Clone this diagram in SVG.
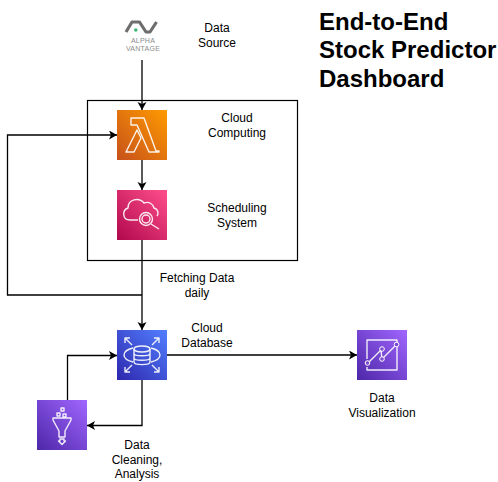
<svg xmlns="http://www.w3.org/2000/svg" width="498" height="482" viewBox="0 0 498 482">
<style>
text{font-family:"Liberation Sans",Arial,sans-serif;font-size:12px;fill:#000;text-anchor:middle}
.title{font-size:24px;font-weight:bold;text-anchor:start}
.logo{font-size:7px;letter-spacing:.25px;fill:#8c8c8c}
.c{fill:none;stroke:#000;stroke-width:1.3;marker-end:url(#a)}
.g{fill:none;stroke:#fff;stroke-width:1.400;stroke-linejoin:round;opacity:.9}
</style>
<defs>
<marker id="a" markerUnits="userSpaceOnUse" markerWidth="10" markerHeight="10" refX="8" refY="4.5" orient="auto"><path d="M0 0L8 4.5L0 9L2 4.5Z" fill="#000"/></marker>
<linearGradient id="o" x1="0" y1="1" x2="1" y2="0"><stop offset="0" stop-color="#c7511b"/><stop offset="1" stop-color="#ff9a00"/></linearGradient>
<linearGradient id="p" x1="0" y1="1" x2="1" y2="0"><stop offset="0" stop-color="#b0084d"/><stop offset="1" stop-color="#ff4f8b"/></linearGradient>
<linearGradient id="b" x1="0" y1="1" x2="1" y2="0"><stop offset="0" stop-color="#2e27ad"/><stop offset="1" stop-color="#527fff"/></linearGradient>
<linearGradient id="v" x1="0" y1="1" x2="1" y2="0"><stop offset="0" stop-color="#4d27a8"/><stop offset="1" stop-color="#a166ff"/></linearGradient>
</defs>
<rect id="cloud-box" x="87.5" y="100.5" width="210" height="160" fill="none" stroke="#000" stroke-width="1.2"/>
<g id="connectors">
<path class="c" d="M142 60V110"/>
<path class="c" d="M142 160V190"/>
<path class="c" d="M142 240V330"/>
<path class="c" d="M142 295H7.5V135H117"/>
<path class="c" d="M167 355H357"/>
<path class="c" d="M142 380V425.500H87"/>
<path class="c" d="M67.500 400V355.500H117"/>
</g>
<g id="alpha-vantage">
<path d="M126 32L132 22H139.500L146 32H150L156.500 22" fill="none" stroke="#6e6e6e" stroke-width="3.200" stroke-linejoin="round"/>
<circle cx="135.800" cy="30" r="1.800" fill="#3cb878"/>
<text class="logo" x="143" y="43">ALPHA</text>
<text class="logo" x="143" y="51.200">VANTAGE</text>
</g>
<g id="lambda">
<rect x="117" y="110" width="50" height="50" fill="url(#o)"/>
<path class="g" d="M131 118H144L156 151H159V152H149L137 125H131Z"/>
<path class="g" d="M137 130L126 152H134L141 138Z"/>
</g>
<g id="scheduling">
<rect x="117" y="190" width="50" height="50" fill="url(#p)"/>
<path class="g" d="M138 220H130C122 220 122 210 128 208C128 199 139 197 144 203C149 201 153 204 154 208C158 209 159 213 157 216"/>
<circle class="g" cx="146" cy="219" r="6.500"/>
<circle class="g" cx="146" cy="219" r="4"/>
<path class="g" d="M151 224L159 229"/>
</g>
<g id="database">
<rect x="117" y="330" width="50" height="50" fill="url(#b)"/>
<ellipse class="g" cx="142" cy="349" rx="8" ry="3"/>
<path class="g" d="M134 349V362C134 365.500 150 365.500 150 362V349M134 353.500C134 356.500 150 356.500 150 353.500M134 358C134 361 150 361 150 358"/>
<path class="g" d="M133 348C121 351 121 359 133 362M151 348C163 351 163 359 151 362"/>
<path class="g" d="M125 338L132 345M125 343V338H130M159 338L152 345M154 338H159V343M125 372L132 365M125 367V372H130M159 372L152 365M154 372H159V367"/>
</g>
<g id="funnel">
<rect x="37" y="400" width="50" height="50" fill="url(#v)"/>
<path class="g" d="M53 418H71V420L65 431V437H59V431L53 420Z"/>
<path class="g" d="M60 441V439H64V441H65.500L62 444.500L58.500 441Z"/>
<rect class="g" x="57" y="413" width="3" height="3"/>
<rect class="g" x="63" y="414" width="3" height="3"/>
<rect class="g" x="61" y="408" width="3" height="3"/>
</g>
<g id="visualization">
<rect x="357" y="330" width="50" height="50" fill="url(#v)"/>
<path class="g" d="M367 359V340H397V370H367V367"/>
<path class="g" d="M368 363L381 350L382 359L396 345"/>
<circle cx="367.500" cy="363" r="2.300" fill="#7d4ad0" stroke="#fff"/>
<circle cx="382" cy="349" r="2.300" fill="#7d4ad0" stroke="#fff"/>
<circle cx="382" cy="359" r="2.300" fill="#7d4ad0" stroke="#fff"/>
<circle cx="396.500" cy="344.500" r="2.300" fill="#7d4ad0" stroke="#fff"/>
</g>
<g id="labels">
<text class="title" x="319" y="29.500">End-to-End</text>
<text class="title" x="319" y="58">Stock Predictor</text>
<text class="title" x="319" y="87">Dashboard</text>
<text x="217" y="32">Data</text>
<text x="217" y="47">Source</text>
<text x="237" y="122">Cloud</text>
<text x="237" y="137">Computing</text>
<text x="237" y="212">Scheduling</text>
<text x="237" y="227">System</text>
<text x="197" y="282">Fetching Data</text>
<text x="197" y="297">daily</text>
<text x="207" y="332">Cloud</text>
<text x="207" y="347">Database</text>
<text x="382" y="402">Data</text>
<text x="382" y="417">Visualization</text>
<text x="137" y="449">Data</text>
<text x="137" y="463.500">Cleaning,</text>
<text x="137" y="478">Analysis</text>
</g>
</svg>
